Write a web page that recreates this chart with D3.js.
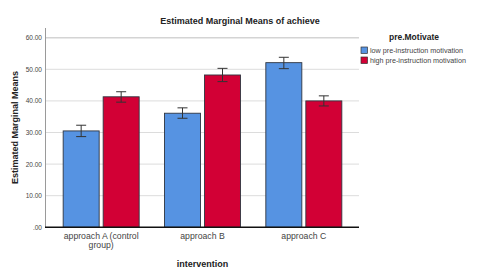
<!DOCTYPE html>
<html>
<head>
<meta charset="utf-8">
<script src="https://cdn.jsdelivr.net/npm/d3@7"></script>
<style>
  body { margin: 0; background: #fff; }
  svg { font-family: Arial, "Liberation Sans", sans-serif; display: block; }
</style>
</head>
<body>
<div id="chart"></div>
<script>
// groups on the x axis
var interventions = ["approach A (control group)", "approach B", "approach C"];
var motivations = ["low pre-instruction motivation", "high pre-instruction motivation"];

// estimated means
var lowMeans  = [30.5, 36.1, 52.1];
var highMeans = [41.3, 48.2, 40.0];
// error bar ends
var lowLower  = [28.7, 34.5, 50.2];
var lowUpper  = [32.3, 37.8, 53.8];
var highLower = [39.6, 46.1, 38.4];
var highUpper = [42.9, 50.3, 41.6];

var yTicks = [0, 10, 20, 30, 40, 50, 60];
var colors = ["#5693e2", "#d20035"];

var width = 480, height = 270;
var svg = d3.select("#chart").append("svg")
    .attr("width", width).attr("height", height);

var y = d3.scaleLinear().domain([0, 60]).range([227.3, 37.7]);
var x = d3.scaleBand().domain(interventions).range([50.5, 354.5]).paddingInner(0.25).paddingOuter(0.125);
var xs = d3.scaleBand().domain(motivations).range([0, x.bandwidth()]).paddingInner(0.1);

// gridlines
svg.append("g").selectAll("line").data(yTicks.slice(1)).enter().append("line")
    .attr("x1", 45).attr("x2", 359)
    .attr("y1", function(d) { return y(d); }).attr("y2", function(d) { return y(d); })
    .attr("stroke", function(d) { return d === 60 ? "#d4d4d4" : "#dcdcdc"; })
    .attr("stroke-width", function(d) { return d === 60 ? 1.6 : 1; });

// left axis line
svg.append("line").attr("x1", 45.5).attr("x2", 45.5).attr("y1", 28).attr("y2", 227.3)
    .attr("stroke", "#9a9a9a").attr("stroke-width", 1);

// y tick labels
svg.append("g").selectAll("text").data(yTicks).enter().append("text")
    .attr("x", 42).attr("y", function(d) { return y(d) + 2.5; })
    .attr("text-anchor", "end").attr("font-size", 6.5).attr("fill", "#444")
    .text(function(d) { return d === 0 ? ".00" : d.toFixed(2); });

// bars
var rows = interventions.map(function(g, i) {
    return [
        { g: g, k: motivations[0], v: lowMeans[i], lo: lowLower[i], hi: lowUpper[i], c: colors[0] },
        { g: g, k: motivations[1], v: highMeans[i], lo: highLower[i], hi: highUpper[i], c: colors[1] }
    ];
});
var flat = [].concat.apply([], rows);

var groups = svg.append("g");
groups.selectAll("rect").data(flat).enter().append("rect")
    .attr("x", function(d) { return x(d.g) + xs(d.k); })
    .attr("y", function(d) { return y(d.v); })
    .attr("width", xs.bandwidth())
    .attr("height", function(d) { return y(0) - y(d.v); })
    .attr("fill", function(d) { return d.c; })
    .attr("stroke", "#2f3540").attr("stroke-width", 0.9);

// error bars
var eb = svg.append("g").attr("stroke", "#333").attr("stroke-width", 1);
flat.forEach(function(d) {
    var cx = x(d.g) + xs(d.k) + xs.bandwidth() / 2;
    eb.append("line").attr("x1", cx).attr("x2", cx).attr("y1", y(d.hi)).attr("y2", y(d.lo));
    eb.append("line").attr("x1", cx - 5).attr("x2", cx + 5).attr("y1", y(d.hi)).attr("y2", y(d.hi));
    eb.append("line").attr("x1", cx - 5).attr("x2", cx + 5).attr("y1", y(d.lo)).attr("y2", y(d.lo));
});

// bottom axis line
svg.append("line").attr("x1", 45).attr("x2", 359).attr("y1", 227.3).attr("y2", 227.3)
    .attr("stroke", "#111").attr("stroke-width", 1.6);

// x tick labels (wrapped)
var xl = svg.append("g").attr("font-size", 8.7).attr("fill", "#444").attr("text-anchor", "middle");
interventions.forEach(function(g) {
    var lines = g === "approach A (control group)" ? ["approach A (control", "group)"] : [g];
    var cx = x(g) + x.bandwidth() / 2;
    lines.forEach(function(t, i) {
        xl.append("text").attr("x", cx).attr("y", 238.5 + i * 9.5).attr("fill", "#444").text(t);
    });
});

// axis titles
svg.append("text").attr("x", 202.5).attr("y", 266.5).attr("text-anchor", "middle")
    .attr("font-size", 9).attr("font-weight", "bold").attr("fill", "#222").text("intervention");
svg.append("text").attr("transform", "translate(18,127.5) rotate(-90)").attr("text-anchor", "middle")
    .attr("font-size", 9).attr("font-weight", "bold").attr("fill", "#222").text("Estimated Marginal Means");

// chart title
svg.append("text").attr("x", 240).attr("y", 24).attr("text-anchor", "middle")
    .attr("font-size", 9).attr("font-weight", "bold").attr("fill", "#222")
    .text("Estimated Marginal Means of achieve");

// legend
svg.append("text").attr("x", 414).attr("y", 40).attr("text-anchor", "middle")
    .attr("font-size", 8.5).attr("font-weight", "bold").attr("fill", "#222").text("pre.Motivate");
var lg = svg.append("g").selectAll("g").data(motivations).enter().append("g")
    .attr("transform", function(d, i) { return "translate(361," + (47 + i * 10) + ")"; });
lg.append("rect").attr("width", 6.5).attr("height", 6.5)
    .attr("fill", function(d, i) { return colors[i]; }).attr("stroke", "#333").attr("stroke-width", 0.7);
lg.append("text").attr("x", 9).attr("y", 5.8).attr("font-size", 7.2).attr("fill", "#444")
    .text(function(d) { return d; });
</script>
</body>
</html>
